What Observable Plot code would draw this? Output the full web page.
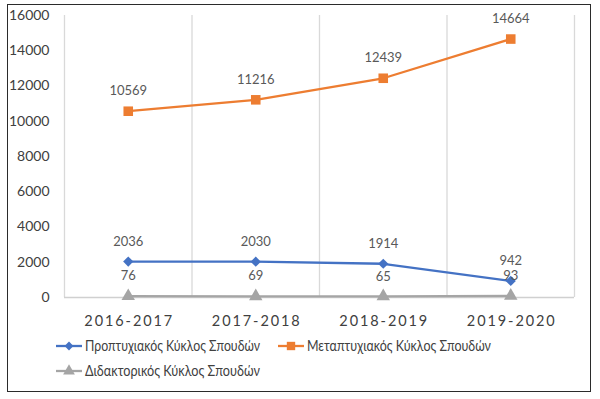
<!DOCTYPE html>
<html>
<head>
<meta charset="utf-8">
<script src="https://cdn.jsdelivr.net/npm/d3@7"></script>
<script src="https://cdn.jsdelivr.net/npm/@observablehq/plot@0.6"></script>
<style>
  html, body { margin: 0; padding: 0; background: #fff; width: 600px; height: 399px; overflow: hidden; }
  #frame { position: absolute; left: 7px; top: 4px; width: 582px; height: 386px; border: 1.5px solid #2b2b2b; box-sizing: content-box; }
  #chart { position: absolute; left: 0; top: 0; }
  #legend { position: absolute; left: 0; top: 330px; }
  .xlab text { letter-spacing: 1.9px; }
</style>
</head>
<body>
<div id="frame"></div>
<div id="chart"></div>
<div id="legend"></div>
<script>
const years = ["2016-2017", "2017-2018", "2018-2019", "2019-2020"];
const undergrad = [2036, 2030, 1914, 942];
const postgrad = [10569, 11216, 12439, 14664];
const doctoral = [76, 69, 65, 93];
const seriesNames = ["Προπτυχιακός Κύκλος Σπουδών", "Μεταπτυχιακός Κύκλος Σπουδών", "Διδακτορικός  Κύκλος Σπουδών"];
const seriesColors = ["#4472C4", "#ED7D31", "#A5A5A5"];
const seriesSymbols = ["diamond2", "square", "triangle"];
const yTicks = [0, 2000, 4000, 6000, 8000, 10000, 12000, 14000, 16000];

const idx = years.map((d, i) => i);
const boundaries = [-0.5, 0.5, 1.5, 2.5, 3.5];
const seriesValues = [undergrad, postgrad, doctoral];
const data = seriesValues.flatMap((vals, s) => vals.map((v, i) => ({s, i, v})));

const font = "Lato, 'Open Sans', sans-serif";

const plot = Plot.plot({
  width: 600,
  height: 335,
  marginLeft: 64,
  marginRight: 26,
  marginTop: 15,
  marginBottom: 38,
  style: {fontFamily: font, background: "transparent", overflow: "visible"},
  x: {type: "linear", domain: [-0.5, 3.5], axis: null},
  y: {domain: [0, 16000], axis: null},
  marks: [
    Plot.ruleX(boundaries, {x: d => d, y1: 0, y2: 16000, stroke: "#d9d9d9", strokeWidth: 1.3}),
    Plot.ruleY([0], {stroke: "#d0d0d0", strokeWidth: 1.3}),
    Plot.text(yTicks, {x: -0.5, y: d => d, text: d => String(d), textAnchor: "end", dx: -15, fontSize: 14, fill: "#404040"}),
    Plot.text(idx, {x: d => d, y: 0, text: d => years[d], dy: 24, dx: 1, fontSize: 14.5, fill: "#404040", className: "xlab"}),
    ...[2, 0, 1].flatMap(s => [
      Plot.line(data.filter(d => d.s === s), {x: "i", y: "v", stroke: seriesColors[s], strokeWidth: 2.3}),
      Plot.dot(data.filter(d => d.s === s), {x: "i", y: "v", symbol: () => seriesSymbols[s], fill: seriesColors[s], stroke: "none", r: s === 0 ? 4.6 : (s === 1 ? 5.4 : 5)})
    ]),
    Plot.text(data, {x: "i", y: "v", text: d => String(d.v), dy: -20, fontSize: 13, fill: "#595959"})
  ]
});
document.getElementById("chart").appendChild(plot);

// legend
const lg = d3.select("#legend").append("svg").attr("width", 600).attr("height", 60)
  .style("font-family", font);
const items = [
  {x: 56, y: 16}, {x: 278, y: 16}, {x: 56, y: 41}
];
items.forEach((p, s) => {
  const g = lg.append("g").attr("transform", `translate(${p.x},${p.y})`);
  g.append("line").attr("x1", 0).attr("x2", 26).attr("stroke", seriesColors[s]).attr("stroke-width", 2.3);
  const sym = s === 0 ? d3.symbolDiamond2 : (s === 1 ? d3.symbolSquare : d3.symbolTriangle);
  const size = s === 0 ? 50 : (s === 1 ? 70 : 60);
  g.append("path").attr("d", d3.symbol(sym, size)()).attr("transform", "translate(13,0)").attr("fill", seriesColors[s]);
  g.append("text").attr("x", 29).attr("y", 0).attr("dy", "0.36em").attr("font-size", 14.5)
    .attr("fill", "#404040").attr("textLength", s === 1 ? 184 : 175)
    .attr("lengthAdjust", "spacingAndGlyphs").text(seriesNames[s]);
});
</script>
</body>
</html>
